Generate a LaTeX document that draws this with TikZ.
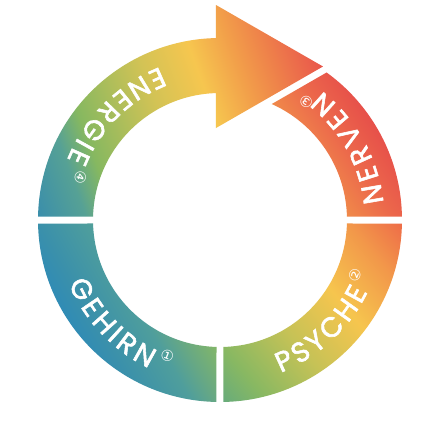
\documentclass[tikz,border=0pt]{standalone}
\usepackage{fontspec}
\newfontfamily\lab{Poppins}[FakeBold=2]
\newfontfamily\dejavu{DejaVu Sans}
\newcommand\labf{\lab\fontsize{28pt}{28pt}\selectfont}
\newcommand\dgf{\dejavu\fontsize{15pt}{15pt}\selectfont}
% ENERGIE colours
\definecolor{ea}{HTML}{3A8EAB}
\definecolor{eb}{HTML}{56A195}
\definecolor{ec}{HTML}{86B860}
\definecolor{ed}{HTML}{D3C355}
\definecolor{ee}{HTML}{F6C64F}
\definecolor{ef}{HTML}{F29F4A}
\definecolor{eg}{HTML}{E9554B}
% NERVEN colours
\definecolor{na}{HTML}{F08C4A}
\definecolor{nb}{HTML}{EC684B}
\definecolor{nc}{HTML}{E64E4A}
% PSYCHE colours
\definecolor{pa}{HTML}{66AB7C}
\definecolor{pb}{HTML}{88B862}
\definecolor{pc}{HTML}{C6C256}
\definecolor{pd}{HTML}{F6C54E}
\definecolor{pe}{HTML}{F2984A}
\definecolor{pf}{HTML}{EE6A48}
% GEHIRN colours
\definecolor{ga}{HTML}{2F8BB6}
\definecolor{gb}{HTML}{3A90AB}
\definecolor{gc}{HTML}{4F9E9C}
\definecolor{gd}{HTML}{67A884}
\definecolor{ge}{HTML}{86B865}
\pgfdeclarehorizontalshading{shE}{100bp}{color(0bp)=(ea); color(25bp)=(ea); color(32.03bp)=(eb); color(36.4bp)=(ec); color(48.44bp)=(ed); color(56.25bp)=(ee); color(62.5bp)=(ef); color(75bp)=(eg); color(100bp)=(eg)}
\pgfdeclarehorizontalshading{shN}{100bp}{color(0bp)=(na); color(25bp)=(na); color(50bp)=(nb); color(75bp)=(nc); color(100bp)=(nc)}
\pgfdeclarehorizontalshading{shP}{100bp}{color(0bp)=(pa); color(25bp)=(pa); color(32.06bp)=(pb); color(43.8bp)=(pc); color(55.6bp)=(pd); color(66.4bp)=(pe); color(75bp)=(pf); color(100bp)=(pf)}
\pgfdeclarehorizontalshading{shG}{100bp}{color(0bp)=(ga); color(25bp)=(ga); color(34.9bp)=(gb); color(53.5bp)=(gc); color(62.2bp)=(gd); color(75bp)=(ge); color(100bp)=(ge)}
\newsavebox\lbox
\newcommand\measureletter[1]{%
  \sbox\lbox{\labf #1}%
  \expandafter\xdef\csname wd-#1\endcsname{\the\wd\lbox}}
\AtBeginDocument{%
  \measureletter{E}\measureletter{N}\measureletter{R}\measureletter{G}%
  \measureletter{I}\measureletter{V}\measureletter{P}\measureletter{S}%
  \measureletter{Y}\measureletter{C}\measureletter{H}%
  \sbox\lbox{\labf E}\xdef\capht{\the\ht\lbox}}
\def\Rc{155}
% #1 centre angle, #2 span (first to last letter centre, deg), #3 letters, #4 digit, #5 digit offset (deg)
\newcommand\arcword[5]{%
  \xdef\tw{0}\xdef\nl{0}%
  \foreach \ch [count=\i] in {#3}{%
    \edef\cw{\csname wd-\ch\endcsname}%
    \pgfmathsetmacro\t{\tw+\cw}\xdef\tw{\t}\xdef\nl{\i}%
    \ifnum\i=1 \xdef\wfirst{\cw}\fi
    \xdef\wlast{\cw}%
  }%
  \pgfmathsetmacro\trk{(#2*pi/180*\Rc-(\tw-0.5*\wfirst-0.5*\wlast))/(\nl-1)}%
  \pgfmathsetmacro\astart{#1-#2/2-(0.5*\wfirst)/\Rc*180/pi}%
  \pgfmathsetmacro\rb{154.5+0.5*\capht}%
  \xdef\curpos{0}%
  \foreach \ch in {#3}{%
    \edef\cw{\csname wd-\ch\endcsname}%
    \pgfmathsetmacro\ang{\astart+(\curpos+0.5*\cw)/\Rc*180/pi}%
    \node[lettr,rotate=\ang+90] at (\ang:\rb pt) {\ch};
    \pgfmathsetmacro\np{\curpos+\cw+\trk}%
    \xdef\curpos{\np}%
  }%
  \pgfmathsetmacro\ang{#1+#2/2+#5}%
  \node[dgt,rotate=\ang+90] at (\ang:146pt) {#4};
}
\tikzset{
  lettr/.style={font=\labf, text=white, anchor=base, inner sep=0pt},
  dgt/.style={font=\dgf, text=white, anchor=center, inner sep=0pt}
}
\begin{document}
\begin{tikzpicture}[x=1pt,y=1pt]
\useasboundingbox (-220,-220) rectangle (220,220);
\fill[white] (-220,-220) rectangle (220,220);
% ENERGIE + arrow
\begin{scope}
  \clip (178.898:182pt) arc[start angle=178.898, end angle=91.102, radius=182pt]
     -- (91.579:127pt) arc[start angle=91.579, end angle=178.421, radius=127pt] -- cycle
     (-4,215) -- (103,153.5) -- (-4,92) -- cycle;
  \begin{scope}[transform canvas={rotate=20}]
    \shade[shading=shE] (-170,-260) rectangle (150,260);
  \end{scope}
\end{scope}
% NERVEN
\begin{scope}
  \clip (1.102:182pt) arc[start angle=1.102, end angle=88.898, radius=182pt]
     -- (88.421:127pt) arc[start angle=88.421, end angle=1.579, radius=127pt] -- cycle;
  \clip (-10,80.47) -- (230,218.43) -- (230,-10) -- (-10,-10) -- cycle;
  \begin{scope}[transform canvas={rotate=34}]
    \shade[shading=shN] (105,-260) rectangle (185,260);
  \end{scope}
\end{scope}
% PSYCHE
\begin{scope}
  \clip (271.102:182pt) arc[start angle=271.102, end angle=358.898, radius=182pt]
     -- (358.421:127pt) arc[start angle=358.421, end angle=271.579, radius=127pt] -- cycle;
  \begin{scope}[transform canvas={rotate=40}]
    \shade[shading=shP] (-116,-260) rectangle (139,260);
  \end{scope}
\end{scope}
% GEHIRN
\begin{scope}
  \clip (181.102:182pt) arc[start angle=181.102, end angle=268.898, radius=182pt]
     -- (268.421:127pt) arc[start angle=268.421, end angle=181.579, radius=127pt] -- cycle;
  \begin{scope}[transform canvas={rotate=30}]
    \shade[shading=shG] (-184,-260) rectangle (-63,260);
  \end{scope}
\end{scope}
% labels
\arcword{135}{42.1}{E,N,E,R,G,I,E}{④}{7}
\arcword{28.9}{38.6}{N,E,R,V,E,N}{③}{5.6}
\arcword{-47}{37}{P,S,Y,C,H,E}{②}{6.1}
\arcword{223.75}{34.3}{G,E,H,I,R,N}{①}{8}
\end{tikzpicture}
\end{document}
